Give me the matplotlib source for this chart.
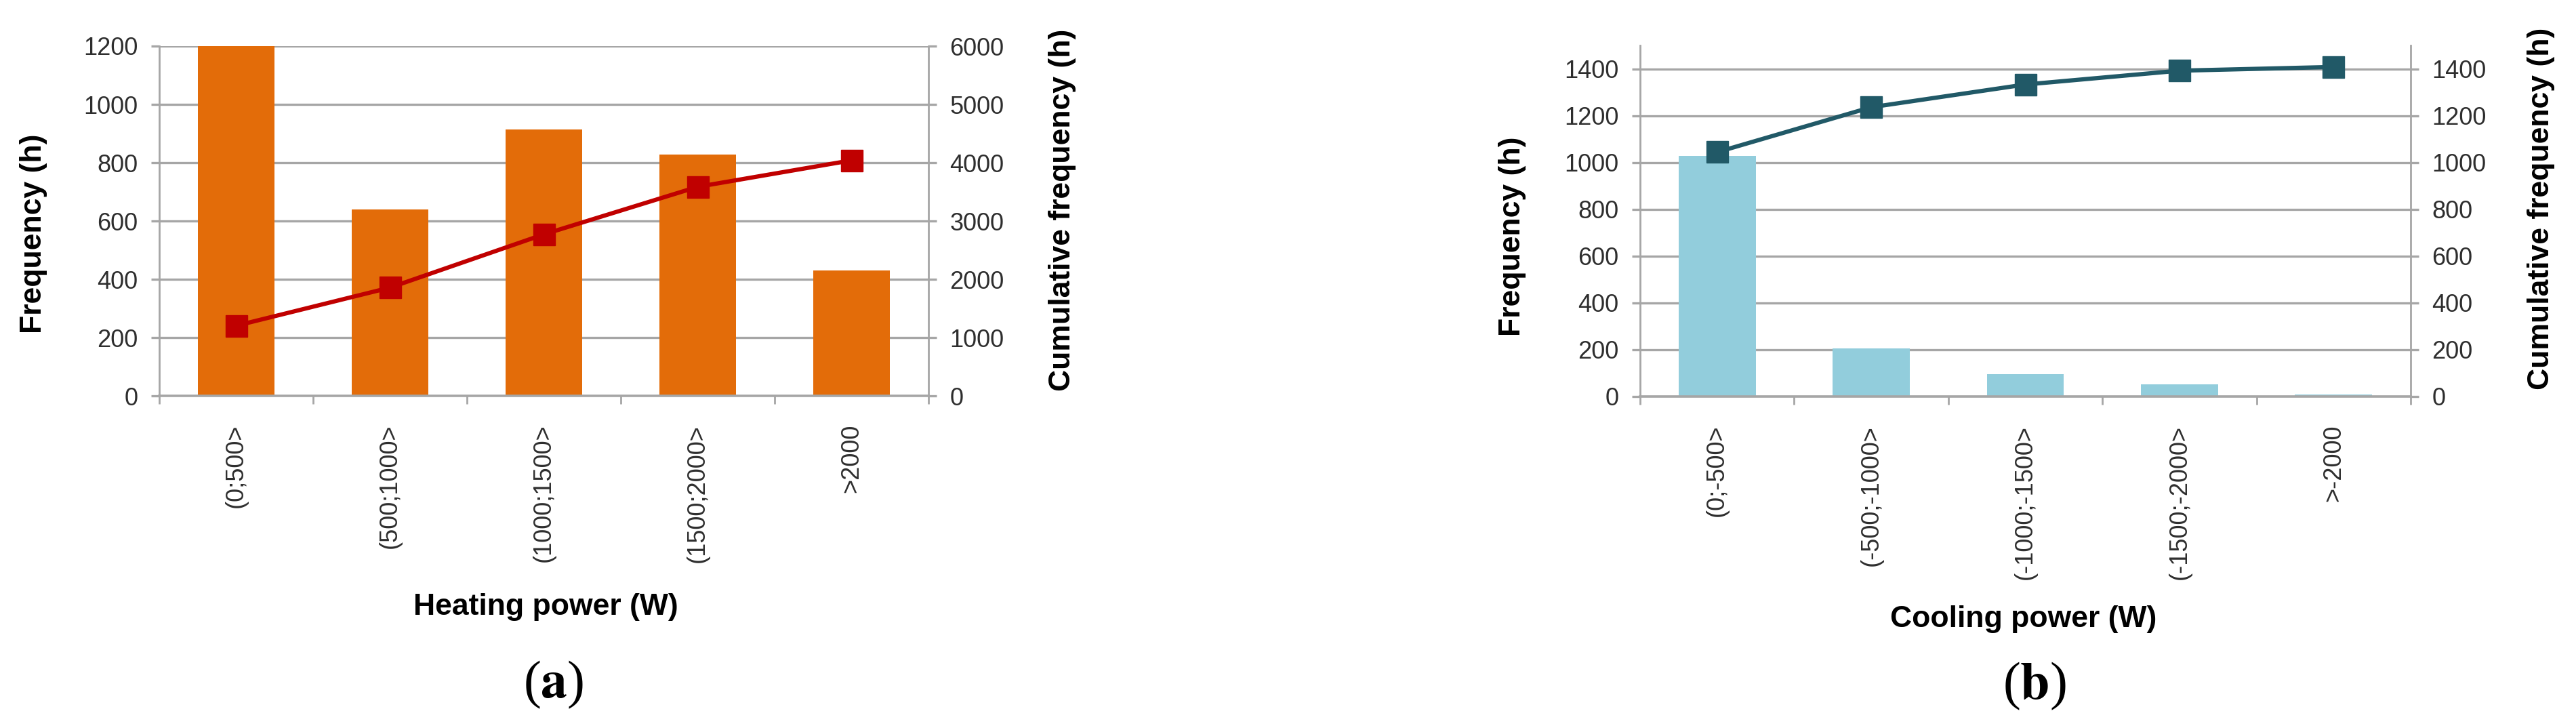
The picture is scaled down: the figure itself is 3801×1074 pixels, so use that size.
import matplotlib
matplotlib.use('Agg')
import matplotlib.pyplot as plt
import numpy as np

plt.rcParams['font.family'] = ['Liberation Sans', 'DejaVu Sans']
plt.rcParams['mathtext.fontset'] = 'stix'

# data
heat_cats = ['(0;500>', '(500;1000>', '(1000;1500>', '(1500;2000>', '>2000']
heat_freq = [1200, 640, 915, 827, 430]
heat_cum = [1203, 1857, 2771, 3586, 4040]

cool_cats = ['(0;-500>', '(-500;-1000>', '(-1000;-1500>', '(-1500;-2000>', '>-2000']
cool_freq = [1027, 206, 95, 52, 10]
cool_cum = [1044, 1236, 1333, 1392, 1408]

GRID = '#A6A6A6'
TXT = '#2E2E2E'
W, H = 3801, 1074
DPI = 100
px = 72.0 / DPI  # points per pixel

fig = plt.figure(figsize=(W / DPI, H / DPI), dpi=DPI)


def panel(rect, cats, freq, cum, bar_col, line_col, ylim, yticks, y2lim, y2ticks):
    ax = fig.add_axes(rect)
    x = np.arange(len(cats))
    ax.bar(x, freq, width=0.5, color=bar_col, edgecolor='none', zorder=2)
    ax.set_xlim(-0.5, len(cats) - 0.5)
    ax.set_ylim(*ylim)
    ax.set_yticks(yticks)
    ax.grid(axis='y', color=GRID, lw=2.4, zorder=0)
    ax.set_axisbelow(True)

    # category labels at centres, tick marks at the boundaries
    ax.set_xticks(x)
    ax.set_xticklabels(cats, rotation=90, fontsize=26, color=TXT)
    ax.tick_params(axis='x', which='major', length=0, pad=30)
    ax.set_xticks(np.arange(len(cats) + 1) - 0.5, minor=True)
    ax.tick_params(axis='x', which='minor', direction='out', length=12 * px,
                   width=2.0, color=GRID)
    ax.tick_params(axis='y', direction='out', length=12 * px, width=2.4,
                   color=GRID, labelsize=26, labelcolor=TXT, pad=14)

    ax.spines['top'].set_visible(False)
    ax.spines['right'].set_visible(False)
    ax.spines['left'].set_color(GRID)
    ax.spines['left'].set_linewidth(2.0)
    ax.spines['bottom'].set_color(GRID)
    ax.spines['bottom'].set_linewidth(2.6)

    ax2 = ax.twinx()
    ax2.plot(x, cum, '-s', color=line_col, lw=4.5, ms=23, zorder=3)
    ax2.set_ylim(*y2lim)
    ax2.set_yticks(y2ticks)
    ax2.tick_params(axis='y', direction='out', length=12 * px, width=2.4,
                    color=GRID, labelsize=26, labelcolor=TXT, pad=14)
    for s in ['top', 'left', 'bottom']:
        ax2.spines[s].set_visible(False)
    ax2.spines['right'].set_color(GRID)
    ax2.spines['right'].set_linewidth(2.0)
    return ax, ax2


def fx(p):
    return p / W


def fy(p):
    return 1 - p / H


# panel (a)
panel([fx(235), fy(584), fx(1370 - 235), (584 - 68) / H],
      heat_cats, heat_freq, heat_cum, '#E36C09', '#C00000',
      (0, 1200), np.arange(0, 1201, 200), (0, 6000), np.arange(0, 6001, 1000))

# panel (b)
panel([fx(2420), fy(585), fx(3557 - 2420), (585 - 67) / H],
      cool_cats, cool_freq, cool_cum, '#92CDDC', '#215967',
      (0, 1500), np.arange(0, 1401, 200), (0, 1500), np.arange(0, 1401, 200))

lab = dict(fontsize=32, fontweight='bold', color='black', ha='center', va='center')
fig.text(fx(50), fy(345), 'Frequency (h)', rotation=90, **lab)
fig.text(fx(1567), fy(310), 'Cumulative frequency (h)', rotation=90, **lab)
fig.text(fx(805), fy(896), 'Heating power (W)', **lab)

fig.text(fx(2232), fy(349), 'Frequency (h)', rotation=90, **lab)
fig.text(fx(3750), fy(308), 'Cumulative frequency (h)', rotation=90, **lab)
fig.text(fx(2986), fy(914), 'Cooling power (W)', **lab)

cap = dict(fontsize=56, ha='center', va='center', family='Liberation Serif')
fig.text(fx(817), fy(1010), r'($\mathbf{a}$)', **cap)
fig.text(fx(3002), fy(1012), r'($\mathbf{b}$)', **cap)

fig.savefig('out.png', dpi=DPI, facecolor='white')
